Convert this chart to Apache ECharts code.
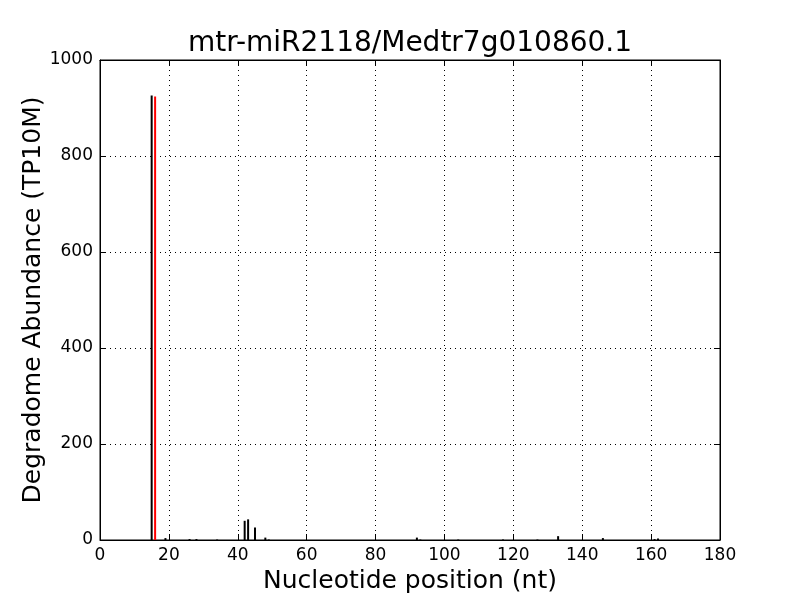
<!DOCTYPE html>
<html>
<head>
<meta charset="utf-8">
<script src="https://cdn.jsdelivr.net/npm/echarts@6/dist/echarts.min.js"></script>
<style>html,body{margin:0;padding:0;background:#fff}#c{width:800px;height:600px}</style>
</head>
<body>
<div id="c"></div>
<script>
const titleText = 'mtr-miR2118/Medtr7g010860.1';
const xLabel = 'Nucleotide position (nt)';
const yLabel = 'Degradome Abundance (TP10M)';
const positions = [15, 19, 26, 28, 34, 42, 43, 45, 48, 49, 92, 93, 104, 117, 127, 133, 146, 161, 162];
const abundances = [926, 4, 2, 2, 1, 40, 43, 26, 5, 1, 5, 1, 1, 1, 1, 8, 4, 2, 3];
const cleavagePositions = [16];
const cleavageAbundances = [924];

const chart = echarts.init(document.getElementById('c'), null, {renderer: 'canvas'});
const font = 'DejaVu Sans';
function mkAxis(type, extra) {
  return Object.assign({
    type: 'value',
    axisLine: {show: true, onZero: false, lineStyle: {color: '#000', width: 1}},
    axisTick: {show: true, inside: true, length: 6, lineStyle: {color: '#000', width: 1}},
  }, extra);
}
const dotted = {show: true, lineStyle: {color: '#000', type: [1, 4], width: 1}};
const lbl = {color: '#000', fontFamily: font, fontSize: 17, margin: 7, formatter: v => String(v)};
chart.setOption({
  animation: false,
  backgroundColor: '#fff',
  grid: {left: 100, right: 80, top: 60, bottom: 60, show: true, borderColor: '#000', borderWidth: 1},
  xAxis: [
    mkAxis('x', {min: 0, max: 180, interval: 20, position: 'bottom', axisLabel: lbl, splitLine: dotted}),
    mkAxis('x', {min: 0, max: 180, interval: 20, position: 'top', axisLabel: {show: false}, splitLine: {show: false}})
  ],
  yAxis: [
    mkAxis('y', {min: 0, max: 1000, interval: 200, position: 'left', axisLabel: lbl, splitLine: dotted}),
    mkAxis('y', {min: 0, max: 1000, interval: 200, position: 'right', axisLabel: {show: false}, splitLine: {show: false}})
  ],
  series: [
    {
      type: 'bar', xAxisIndex: 0, yAxisIndex: 0, barWidth: 2, barGap: '-100%',
      itemStyle: {color: '#000'},
      data: positions.map((p, i) => [p, abundances[i]])
    },
    {
      type: 'bar', xAxisIndex: 0, yAxisIndex: 0, barWidth: 2, barGap: '-100%',
      itemStyle: {color: '#ff0000'},
      data: cleavagePositions.map((p, i) => [p, cleavageAbundances[i]])
    }
  ],
  graphic: [
    {type: 'text', x: 410, y: 44, style: {text: titleText, font: '28px "DejaVu Sans"', fill: '#000', textAlign: 'center', textVerticalAlign: 'middle'}},
    {type: 'text', x: 410, y: 581, style: {text: xLabel, font: '25px "DejaVu Sans"', fill: '#000', textAlign: 'center', textVerticalAlign: 'middle'}},
    {type: 'text', x: 33, y: 300, rotation: Math.PI / 2, style: {text: yLabel, font: '25px "DejaVu Sans"', fill: '#000', textAlign: 'center', textVerticalAlign: 'middle'}}
  ]
});
</script>
</body>
</html>
